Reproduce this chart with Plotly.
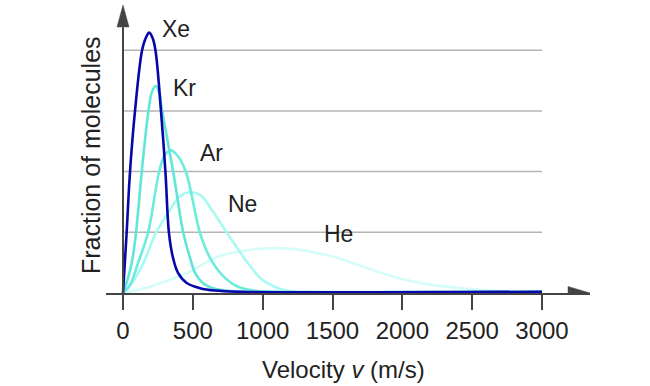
import plotly.graph_objects as go

# ---- data (velocity in m/s, fraction in grid units) ----
xe_v = [0, 26, 50, 86, 136, 163, 188, 212, 233, 272, 304, 329, 358, 394, 456, 551, 659, 838, 3000]
xe_y = [0, 0.99, 1.99, 3.00, 3.99, 4.20, 4.29, 4.20, 3.99, 3.00, 1.99, 0.99, 0.58, 0.33, 0.165, 0.08, 0.04, 0.02, 0.02]

kr_v = [0, 14, 62, 93, 134, 181, 207, 233, 258, 280, 360, 432, 480, 516, 573, 644, 730, 909, 3000]
kr_y = [0, 0.08, 0.49, 0.99, 1.99, 2.98, 3.31, 3.41, 3.31, 3.00, 1.99, 0.99, 0.58, 0.33, 0.16, 0.08, 0.04, 0.02, 0.02]

ar_v = [0, 50, 107, 179, 258, 298, 341, 388, 451, 551, 623, 709, 809, 931, 1124, 3000]
ar_y = [0, 0.13, 0.49, 0.99, 1.99, 2.27, 2.35, 2.27, 1.99, 0.99, 0.58, 0.30, 0.12, 0.04, 0.02, 0.02]

ne_v = [0, 64, 145, 236, 337, 410, 483, 560, 635, 745, 895, 1002, 1174, 1410, 3000]
ne_y = [0, 0.16, 0.49, 0.99, 1.37, 1.60, 1.66, 1.60, 1.37, 0.99, 0.49, 0.21, 0.04, 0.02, 0.02]

he_v = [0, 215, 458, 694, 909, 1103, 1267, 1504, 1747, 1983, 2220, 2463, 2699, 3000]
he_y = [0, 0.12, 0.33, 0.61, 0.71, 0.74, 0.71, 0.60, 0.41, 0.24, 0.13, 0.07, 0.03, 0.02]

gas_names = ["He", "Ne", "Ar", "Kr", "Xe"]
tick_vals = [0, 500, 1000, 1500, 2000, 2500, 3000]
tick_text = ["0", "500", "1000", "1500", "2000", "2500", "3000"]
grid_levels = [1, 2, 3, 4]

# label anchor positions (data coords)
label_x = {"Xe": 262, "Kr": 346, "Ar": 536, "Ne": 739, "He": 1427}
label_y = {"Xe": 4.35, "Kr": 3.37, "Ar": 2.31, "Ne": 1.47, "He": 0.975}

series = {
    "He": (he_v, he_y, "rgb(212,252,249)"),
    "Ne": (ne_v, ne_y, "rgb(168,248,243)"),
    "Ar": (ar_v, ar_y, "rgb(108,236,221)"),
    "Kr": (kr_v, kr_y, "rgb(96,230,214)"),
    "Xe": (xe_v, xe_y, "rgb(6,6,170)"),
}

X_MIN, X_MAX = -121.7, 3343.6
Y_MIN, Y_MAX = 0, 4.745
AXIS = "#444444"
FONT = "Liberation Sans, Arial, sans-serif"

fig = go.Figure()
for name in gas_names:
    v, y, col = series[name]
    fig.add_trace(go.Scatter(x=v, y=y, mode="lines", name=name,
                             line=dict(color=col, width=2.6, shape="spline", smoothing=1.0),
                             hoverinfo="skip"))

shapes = []
for g in grid_levels:
    shapes.append(dict(type="line", xref="x", yref="y", x0=0, x1=3000, y0=g, y1=g,
                       line=dict(color="#b4b4b4", width=1.5), layer="below"))
# y axis line with arrow
shapes.append(dict(type="line", xref="x", yref="y", x0=0, x1=0, y0=0, y1=4.38,
                   line=dict(color=AXIS, width=2)))
shapes.append(dict(type="path", xref="x", yref="y", xsizemode="pixel", ysizemode="pixel",
                   xanchor=0, yanchor=Y_MAX, path="M -6,-22 L 0,0 L 6,-22 Z",
                   fillcolor=AXIS, line=dict(color=AXIS, width=0.5)))
# x axis arrow head
shapes.append(dict(type="path", xref="x", yref="y", xsizemode="pixel", ysizemode="pixel",
                   xanchor=X_MAX, yanchor=0, path="M -22,-6.5 L 0,0 L -22,6.5 Z",
                   fillcolor=AXIS, line=dict(color=AXIS, width=0.5)))

annotations = []
for name in gas_names:
    annotations.append(dict(x=label_x[name], y=label_y[name], xref="x", yref="y",
                            text=name, showarrow=False, xanchor="left", yanchor="middle",
                            font=dict(family=FONT, size=23, color="#222222")))
annotations.append(dict(x=-0.031, y=0.479, xref="paper", yref="paper",
                        text="Fraction of molecules", textangle=-90, showarrow=False,
                        xanchor="center", yanchor="middle",
                        font=dict(family=FONT, size=25, color="#222222")))
annotations.append(dict(x=0.4917, y=-0.264, xref="paper", yref="paper",
                        text="Velocity <i>v</i> (m/s)", showarrow=False,
                        xanchor="center", yanchor="middle",
                        font=dict(family=FONT, size=24, color="#222222")))

fig.update_layout(
    width=650, height=386,
    margin=dict(l=106, r=60, t=5, b=93),
    paper_bgcolor="white", plot_bgcolor="white",
    showlegend=False,
    shapes=shapes, annotations=annotations,
    xaxis=dict(range=[X_MIN, X_MAX], tickmode="array", tickvals=tick_vals, ticktext=tick_text,
               showline=True, linecolor=AXIS, linewidth=2, ticks="outside", ticklen=15,
               tickwidth=2, tickcolor=AXIS, showgrid=False, zeroline=False,
               tickfont=dict(family=FONT, size=24, color="#222222")),
    yaxis=dict(range=[Y_MIN, Y_MAX], showgrid=False, zeroline=False, showline=False,
               showticklabels=False, ticks=""),
)

fig.write_html("out.html", config={"displayModeBar": False, "staticPlot": True},
               post_script="document.body.style.margin='0px';document.body.style.overflow='hidden';")
